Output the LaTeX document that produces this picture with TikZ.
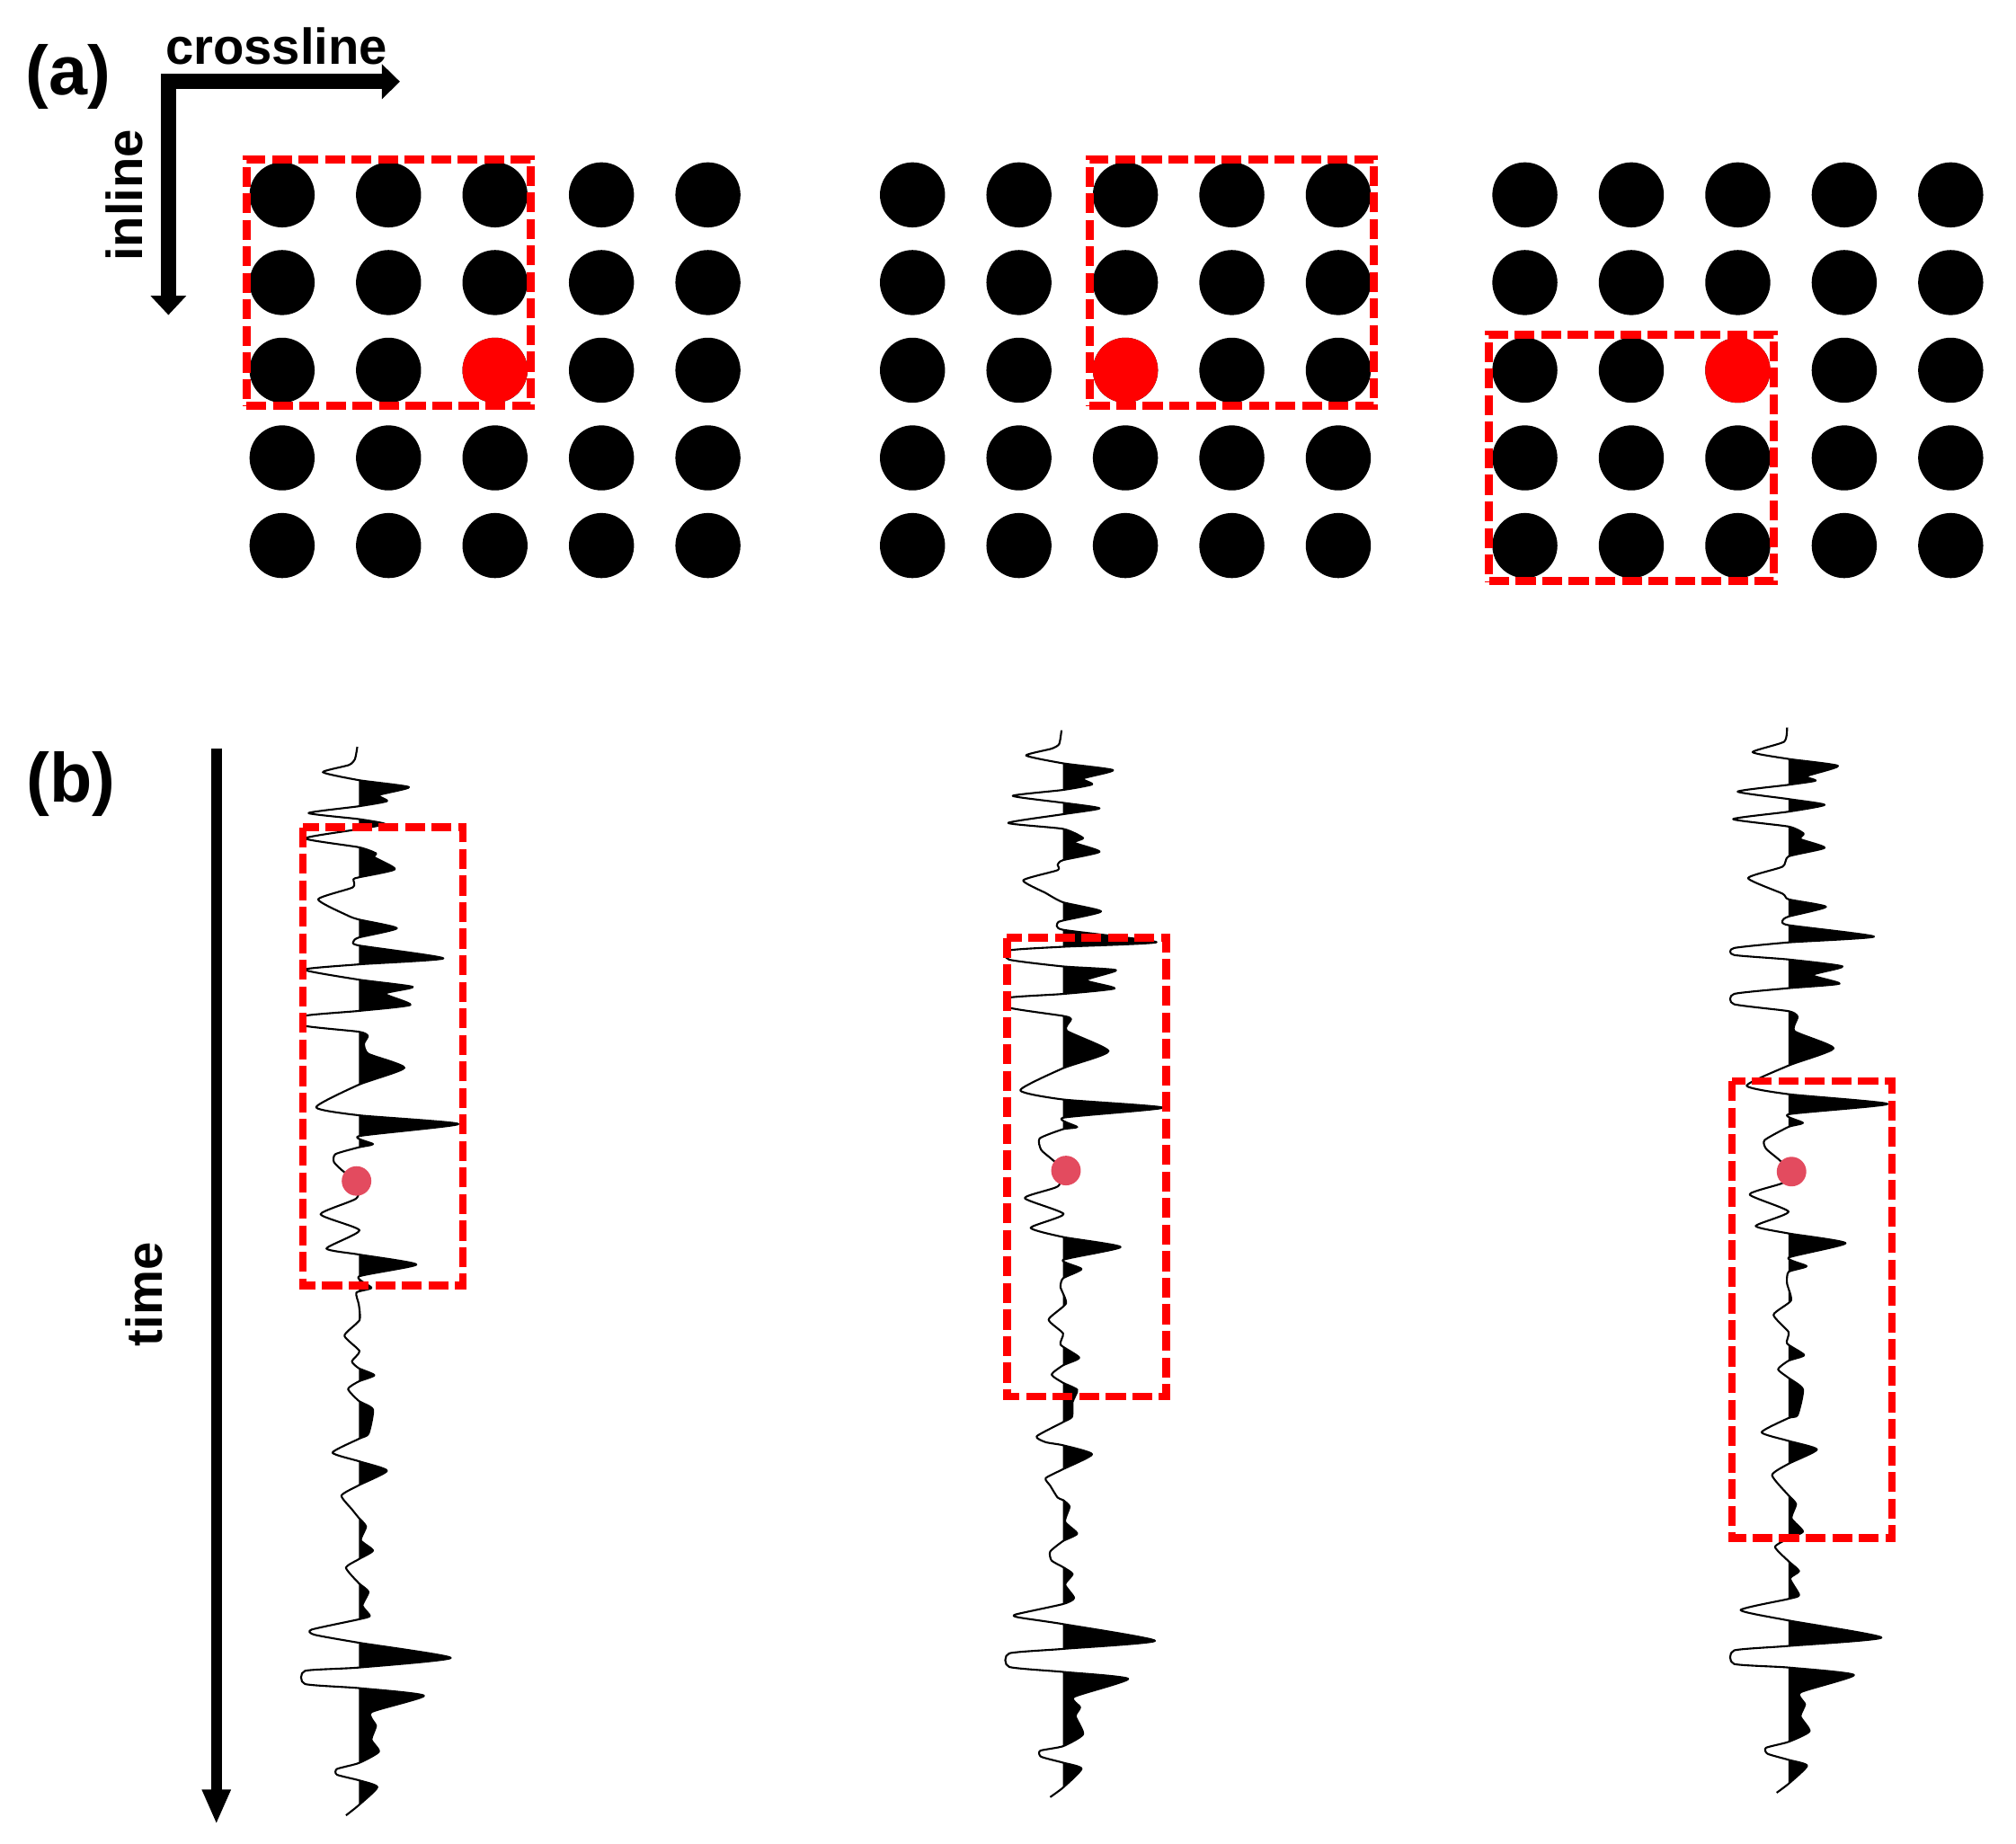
\documentclass[tikz,border=0pt]{standalone}
\usepackage{fontspec}
\setmainfont{Liberation Sans}
\usetikzlibrary{fit}
\definecolor{pinkc}{RGB}{227,75,95}
\begin{document}
\begin{tikzpicture}[x=0.0143cm, y=-0.0143cm,
  dot/.style={circle, fill=black, minimum size=0.7236cm, inner sep=0pt},
  reddot/.style={dot, fill=red},
  redbox/.style={draw=red, line width=2.5pt, dash pattern=on 6.3pt off 2.1pt},
  pinkdot/.style={circle, fill=pinkc, minimum size=0.329cm, inner sep=0pt},
  lbl/.style={font=\bfseries\fontsize{16}{19}\selectfont, inner sep=0pt},
  panel/.style={font=\bfseries\fontsize{22}{26}\selectfont, inner sep=0pt},
  wig/.style={line width=0.6pt, line join=round}]

\useasboundingbox (0,0) rectangle (1568,1434);

% ---------- panel (a) ----------
\node[panel] (pa) at (53,60) {(a)};
\node[lbl] (cross) at (215,36) {crossline};
\node[lbl, rotate=90] (inl) at (97,152) {inline};

\coordinate (corner) at (131,63.5);
\coordinate (vend) at (131,231);
\coordinate (hend) at (297.5,63.5);
\draw[line width=4.87pt] (vend) -- (corner) -- (hend);
\fill (297,49.8) -- (311,63.5) -- (297,77.2) -- cycle;
\fill (117,230) -- (131,245) -- (145,230) -- cycle;

\foreach \g/\xo in {L/219.4, M/709.7, R/1186}{
  \foreach \r in {1,...,5}{
    \foreach \c in {1,...,5}{
      \node[dot] (\g-\r-\c) at ({\xo+82.8*(\c-1)}, {151.6+68.2*(\r-1)}) {};
    }
  }
}
\node[reddot] (Lred) at (L-3-3) {};
\node[reddot] (Mred) at (M-3-3) {};
\node[reddot] (Rred) at (R-3-3) {};

\node[redbox, fit=(L-1-1)(L-3-3), inner sep=0.8pt] (Lbox) {};
\node[redbox, fit=(M-1-3)(M-3-5), inner sep=0.8pt] (Mbox) {};
\node[redbox, fit=(R-3-1)(R-5-3), inner sep=0.8pt] (Rbox) {};

% ---------- panel (b) ----------
\node[panel] (pb) at (55,610) {(b)};
\node[lbl, rotate=90] (tm) at (112,1007) {time};
\coordinate (ttop) at (168.3,582);
\coordinate (tbot) at (168.3,1393);
\draw[line width=3.45pt] (ttop) -- (tbot);
\fill (156.8,1392) -- (168.3,1418) -- (179.8,1392) -- cycle;

% trace 1
\begin{scope}[shift={(279.1,0)}]
\path[save path=\trA] plot[smooth, tension=0.35] coordinates {(-1.2,581.0) (-3.0,590.4) (-7.7,595.1) (-28.0,600.7) (0,606.9) (38.9,612.3) (15.6,618.5) (21.9,623.2) (0,627.2) (-39.1,632.5) (0,637.2) (20.3,641.0) (0,645.0) (-41.9,652.2) (0,659.1) (13.3,663.8) (12.1,666.9) (28.0,676.2) (0,682.5) (-4.2,684.0) (-4.7,690.3) (-31.7,699.6) (-8.9,712.1) (0,715.3) (29.6,722.1) (0,729.3) (-4.2,732.4) (0,735.5) (65.7,745.5) (0,750.2) (-42.6,754.3) (0,762.1) (41.9,767.7) (20.3,773.0) (40.1,781.7) (0,786.4) (-41.9,790.2) (-41.9,798.0) (0,802.6) (7.0,805.8) (4.0,812.0) (7.5,819.8) (35.4,830.7) (0,843.8) (-33.3,861.3) (0,867.6) (77.4,874.4) (0,883.8) (11.0,890.0) (0,892.5) (-18.2,897.8) (-19.3,904.1) (-11.2,911.9) (0,918.1) (-1.9,932.2) (-29.8,944.6) (0.5,957.1) (-25.2,971.2) (0,975.9) (44.7,983.7) (0,993.0) (9.8,1001.8) (-1.9,1005.5) (0,1014.9) (0.5,1027) (-11.2,1039) (0.5,1051) (-5.4,1059) (0,1064.4) (12.1,1069.8) (0,1074.6) (-8.4,1080.5) (0,1089.8) (11,1096.5) (7.5,1115.3) (0,1119.3) (-20.5,1130) (0,1136.7) (21.9,1144.1) (0,1155.4) (-13.5,1163.4) (-5.4,1174.1) (0,1180.8) (5.6,1187.5) (1.6,1198.2) (11,1206.2) (0,1212.9) (-10,1219.6) (0,1231.6) (7.5,1238.3) (2.8,1249) (8.6,1257) (0,1259.7) (-36.8,1267.7) (-34.5,1271.7) (0,1277.9) (71.5,1289.7) (0,1297.2) (-41.9,1299.8) (-41.9,1310) (0,1313.2) (50.6,1319.1) (9.8,1331.9) (13.3,1342.6) (9.8,1353.3) (15.6,1362.7) (0,1371.5) (-17,1376.1) (-17,1380.6) (0,1384.9) (14.4,1390.2) (0,1404.2) (-10,1412.2)};
\begin{scope}
\clip (0,550) rectangle (110,1430);
\fill[use path=\trA];
\end{scope}
\draw[wig, use path=\trA];
\end{scope}

% trace 2
\begin{scope}[shift={(826.8,0)}]
\path[save path=\trB] plot[smooth, tension=0.35] coordinates {(-1.2,568.1) (-3.0,578.8) (-8.9,582.4) (-28.7,587.7) (0,593.8) (38.9,599.1) (15.6,605.6) (22.6,610.2) (0,614.5) (-39.1,619.1) (0,624.5) (28.4,628.8) (0,633.4) (-42.6,640.2) (0,644.8) (15.6,651.9) (8.6,655.5) (28.4,662.6) (0,669.1) (-4.2,672.6) (-4.2,676.9) (-31.0,684.8) (-13.5,694.7) (0,701.9) (29.6,709.0) (0,716.1) (-4.2,717.9) (0,723.3) (72.7,732.9) (0,736.5) (-41.9,739.3) (-41.9,746.5) (0,751.8) (41.2,754.7) (17.9,762.5) (40.1,768.9) (0,773.2) (-41.9,776.1) (-41.9,783.9) (0,790.3) (6.3,792.8) (2.8,801.8) (35.4,817.8) (0,831.0) (-33.3,848.1) (0,855.3) (77.4,861.7) (0,869.5) (11.0,876.7) (0,878.4) (-18.2,885.6) (-17.0,894.5) (-8.9,901.6) (0.5,910.6) (-4.2,923.0) (-29.8,932.0) (0.5,944.4) (-25.2,955.1) (0,962.3) (44.7,970.1) (0,980.1) (14.4,987.2) (0,994.4) (-1.9,1001.5) (2.3,1014.0) (-11.2,1026.5) (0,1037.2) (-1.9,1046.1) (12.6,1056.1) (0,1062.1) (-8.9,1069.3) (0,1075.7) (11.0,1081.2) (7.5,1090.5) (7.0,1102.1) (0,1106.3) (-20.5,1117.3) (-13.5,1121.9) (0,1124.3) (22.6,1131.3) (0,1142.9) (-13.5,1149.9) (-10.0,1155.7) (-4.2,1165.0) (0,1166.9) (5.1,1172.0) (1.6,1183.7) (11.0,1193.0) (0,1198.8) (-10.0,1207.0) (-8.9,1214.0) (0,1219.1) (7.5,1224.5) (1.6,1232.6) (8.6,1243.1) (0,1247.8) (-36.8,1255.9) (-34.5,1258.2) (0,1263.4) (71.5,1276.4) (0,1282.7) (-41.9,1286.2) (-41.9,1296.7) (0,1300.6) (50.6,1306.0) (8.6,1320.0) (13.3,1328.1) (9.8,1335.1) (15.6,1349.1) (0,1358.4) (-17.7,1361.9) (-17.0,1366.6) (0,1371.2) (14.4,1375.9) (0,1390.6) (-10.0,1398.0)};
\begin{scope}
\clip (0,550) rectangle (110,1430);
\fill[use path=\trB];
\end{scope}
\draw[wig, use path=\trB];
\end{scope}

% trace 3
\begin{scope}[shift={(1391.1,0)}]
\path[save path=\trC] plot[smooth, tension=0.35] coordinates {(-1.2,565.9) (-3.5,577.0) (-28.0,585.1) (0,590.4) (38.4,595.8) (14.0,603.8) (21.0,607.3) (0,610.5) (-39.6,615.8) (0,621.6) (28.0,626.1) (0,631.4) (-43.1,637.2) (0,643.0) (11.7,648.4) (9.3,652.8) (28.0,659.5) (0,666.2) (-4.7,674.2) (-31.5,683.1) (-4.7,695.2) (0,699.6) (29.1,705.4) (0,713.0) (-4.7,716.1) (0,719.7) (66.4,728.6) (0,733.1) (-42.4,737.5) (-42.4,742.9) (0,746.4) (41.9,751.8) (18.6,758.5) (39.6,765.2) (0,768.7) (-42.4,773.2) (-42.4,781.2) (0,786.6) (7.0,791.0) (4.7,802.2) (35.0,815.5) (0,828.9) (-32.6,844.5) (0,851.2) (76.9,858.8) (0,866.8) (11.2,873.5) (0,876.6) (-18.6,886.9) (-17.5,893.6) (-7.0,902.5) (1.2,911.4) (-4.7,920.3) (-30.3,929.2) (0,942.6) (-25.6,953.7) (0,959.5) (44.3,967.1) (0,978.3) (14.0,985.0) (0,989.4) (-1.2,998.3) (1.9,1011.7) (-11.7,1022.8) (0,1036.2) (-1.2,1045.1) (12.1,1054.1) (0,1058.5) (-8.2,1065.2) (0,1071.9) (11.2,1080.8) (7.0,1100.8) (0,1103.1) (-21.0,1114.2) (0,1120.9) (22.1,1127.6) (0,1138.7) (-12.8,1147.6) (0,1163.3) (5.8,1170.0) (2.3,1181.1) (11.2,1191.4) (0,1196.7) (-10.5,1203.4) (0,1214.5) (8.2,1222.2) (1.2,1228.0) (8.2,1240.8) (0,1243.8) (-37.3,1252.5) (0,1260.6) (72.2,1273.9) (0,1280.4) (-42.4,1283.9) (-42.4,1294.4) (0,1297.2) (50.8,1303.0) (9.3,1316.5) (12.8,1325.9) (9.3,1335.2) (16.3,1346.8) (0,1355.0) (-17.5,1359.6) (-16.3,1364.3) (0,1369.0) (14.4,1373.6) (0,1387.6) (-9.3,1394.6)};
\begin{scope}
\clip (0,550) rectangle (110,1430);
\fill[use path=\trC];
\end{scope}
\draw[wig, use path=\trC];
\end{scope}

% boxes and picked samples in (b)
\draw[redbox] (235.6,643.5) rectangle (360,1000.2);
\draw[redbox] (783.2,729.7) rectangle (907.1,1086.4);
\draw[redbox] (1347.1,841) rectangle (1471.5,1196.7);
\node[pinkdot] (p1) at (277.3,918.7) {};
\node[pinkdot] (p2) at (829.1,910.6) {};
\node[pinkdot] (p3) at (1393.4,911.4) {};
\end{tikzpicture}
\end{document}
